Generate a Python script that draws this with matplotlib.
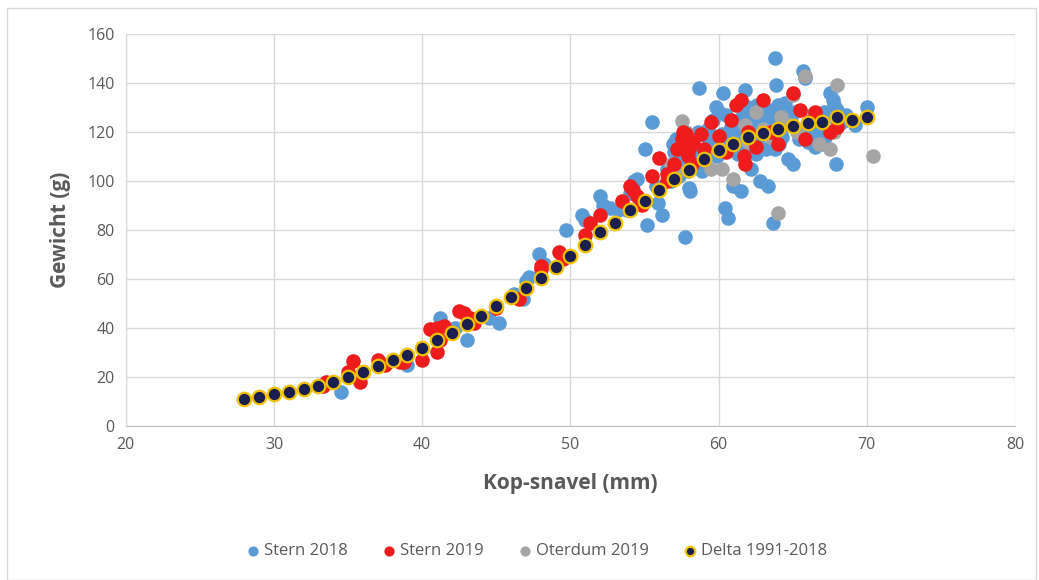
import matplotlib
matplotlib.use("Agg")
import matplotlib.pyplot as plt
from matplotlib.patches import Rectangle

# Stern 2018
stern18_x = [34.5, 39.0, 41.2, 43.0, 45.2, 46.2, 47.0, 47.2, 47.9, 49.7, 50.8, 52.0, 52.2, 52.7,
             53.2, 54.0, 54.3, 54.5, 55.0, 55.5, 55.2, 55.9, 56.2, 57.1, 57.7, 58.0, 58.1, 58.7,
             59.0, 59.8, 60.3, 60.4, 60.6, 61.0, 61.5, 61.8, 62.2, 62.8, 63.3, 63.7, 63.8, 63.9,
             64.7, 65.0, 65.7, 65.8, 66.0, 66.5, 67.1, 67.5, 67.7, 67.8, 67.9, 69.2, 70.0,
             56.5, 57.0, 57.5, 58.5, 59.2, 59.6, 60.0, 60.8, 61.2, 61.6, 62.0, 62.4, 62.9, 63.2,
             63.5, 64.0, 64.3, 64.6, 65.2, 65.5, 66.2, 66.8, 67.3, 68.0, 58.3, 59.4, 60.9, 62.6,
             63.0, 64.9, 66.4, 67.0, 55.8, 56.8, 57.9, 53.8, 54.7, 51.0, 48.2, 46.8, 44.5, 42.2,
             56.9, 57.3, 58.6, 59.1, 59.9, 60.5, 61.1, 61.4, 62.1, 62.7, 63.4, 63.8, 64.4, 65.1,
             65.6, 66.1, 66.6, 67.2, 67.6, 68.3, 57.6, 58.9, 60.2, 61.3, 62.3, 63.6, 64.1, 65.4,
             66.9, 68.6, 60.7, 62.5, 64.5, 59.3, 61.9]
stern18_y = [14, 25, 44, 35, 42, 54, 59, 61, 70, 80, 86, 94, 90, 89,
             88, 95, 100, 101, 113, 124, 82, 91, 86, 117, 77, 97, 96, 138,
             105, 130, 136, 89, 85, 98, 96, 137, 105, 100, 98, 83, 150, 139,
             109, 107, 145, 142, 116, 114, 128, 136, 133, 131, 107, 123, 130,
             105, 112, 108, 112, 118, 125, 128, 122, 117, 126, 130, 122, 127, 113,
             125, 131, 118, 128, 121, 118, 125, 120, 126, 129, 110, 116, 120, 131,
             126, 124, 117, 122, 98, 100, 104, 88, 92, 84, 66, 52, 44, 40,
             115, 102, 120, 107, 110, 127, 113, 121, 125, 118, 129, 113, 123, 128,
             120, 122, 125, 118, 128, 124, 108, 104, 119, 111, 124, 126, 115, 117,
             115, 127, 117, 111, 132, 121, 114]

# Stern 2019
stern19_x = [33.3, 33.5, 35.0, 35.3, 35.8, 37.0, 37.5, 38.5, 38.8, 40.0, 40.5, 41.0, 41.0, 41.2,
             41.5, 42.5, 42.8, 43.2, 43.5, 45.0, 46.5, 48.0, 48.0, 49.2, 49.5, 51.0, 51.3, 52.0,
             53.5, 54.0, 54.2, 54.5, 54.8, 55.5, 56.0, 56.5, 56.5, 57.0, 57.2, 57.5, 57.6, 57.8,
             57.9, 58.0, 58.2, 58.3, 58.8, 59.0, 59.5, 60.0, 60.5, 60.8, 61.2, 61.5, 61.7, 61.8,
             62.0, 62.5, 63.0, 63.5, 64.0, 65.0, 65.5, 65.8, 66.0, 66.5, 67.5, 68.0]
stern19_y = [16.5, 18, 22, 26.5, 18, 27, 25, 26, 26, 27, 39.5, 40, 30, 35,
             41, 47, 46, 44, 42, 48, 52, 65.5, 64, 71, 68, 78, 83, 86,
             92, 98, 96.5, 94, 90, 102, 109.5, 103, 100, 107, 113, 117, 120, 119,
             110, 113, 107, 116, 119, 113, 124, 118.5, 112, 125, 131, 133, 110, 107,
             120, 114, 133, 120, 115, 136, 129, 117, 124, 128, 120, 122]

# Oterdum 2019
oterdum_x = [57.5, 57.8, 57.2, 56.8, 59.5, 60.2, 61.0, 61.8, 62.0, 62.5, 63.5, 64.0, 64.2,
             65.0, 65.3, 65.8, 66.2, 66.8, 67.5, 67.8, 68.0, 70.4, 63.0, 64.8]
oterdum_y = [124.5, 120, 104, 107, 105, 105, 101, 123, 116, 128, 118, 87, 126,
             135, 120, 143, 127, 115, 113, 120, 139, 110, 121, 123]

# Delta 1991-2018
delta_x = list(range(28, 71))
delta_y = [11, 12, 13, 14, 15, 16.5, 18, 20, 22, 24.5, 27, 29, 32, 35, 38, 41.5, 45, 49,
           52.5, 56.5, 60.5, 65, 69.5, 74, 79, 83, 88, 92, 96.5, 101, 104.5, 109, 112.5,
           115, 118, 119.5, 121, 122.5, 123.5, 124, 126, 125, 126]

plt.rcParams['font.family'] = ['Open Sans', 'DejaVu Sans']
txt = '#595959'

fig = plt.figure(figsize=(10.39, 5.8), dpi=100)
fig.patches.append(Rectangle((0.007, 0.0), 0.99, 0.986, transform=fig.transFigure,
                             fill=False, edgecolor='#D9D9D9', linewidth=1))
ax = fig.add_axes([0.121, 0.2655, 0.856, 0.676])

ms = 110
ax.scatter(stern18_x, stern18_y, s=ms, color='#5B9BD5', linewidths=0, label='Stern 2018', zorder=3)
ax.scatter(stern19_x, stern19_y, s=ms, color='#EE1C1C', linewidths=0, label='Stern 2019', zorder=4)
ax.scatter(oterdum_x, oterdum_y, s=ms, color='#A5A5A5', linewidths=0, label='Oterdum 2019', zorder=3.5)
ax.scatter(delta_x, delta_y, s=95, color='#1B1F4D', edgecolors='#F2C100', linewidths=1.6,
           label='Delta 1991-2018', zorder=5)

ax.set_xlim(20, 80)
ax.set_ylim(0, 160)
ax.set_xticks(range(20, 81, 10))
ax.set_yticks(range(0, 161, 20))
ax.grid(color='#D9D9D9', linewidth=1, zorder=0)
ax.set_axisbelow(True)
for s in ['top', 'right']:
    ax.spines[s].set_visible(False)
ax.spines['left'].set_color('#D9D9D9')
ax.spines['bottom'].set_color('#BFBFBF')
ax.tick_params(length=0, labelsize=11.5, labelcolor=txt, pad=8)
ax.set_xlabel('Kop-snavel (mm)', fontsize=15, fontweight='bold', color=txt, labelpad=14)
ax.set_ylabel('Gewicht (g)', fontsize=15, fontweight='bold', color=txt, labelpad=12)

leg = fig.legend(loc='center', bbox_to_anchor=(0.515, 0.05), ncol=4, frameon=False,
                 fontsize=12, handletextpad=0.05, columnspacing=1.9, markerscale=0.7,
                 handlelength=1.2)
for t in leg.get_texts():
    t.set_color(txt)

fig.savefig('out.png', dpi=100)
